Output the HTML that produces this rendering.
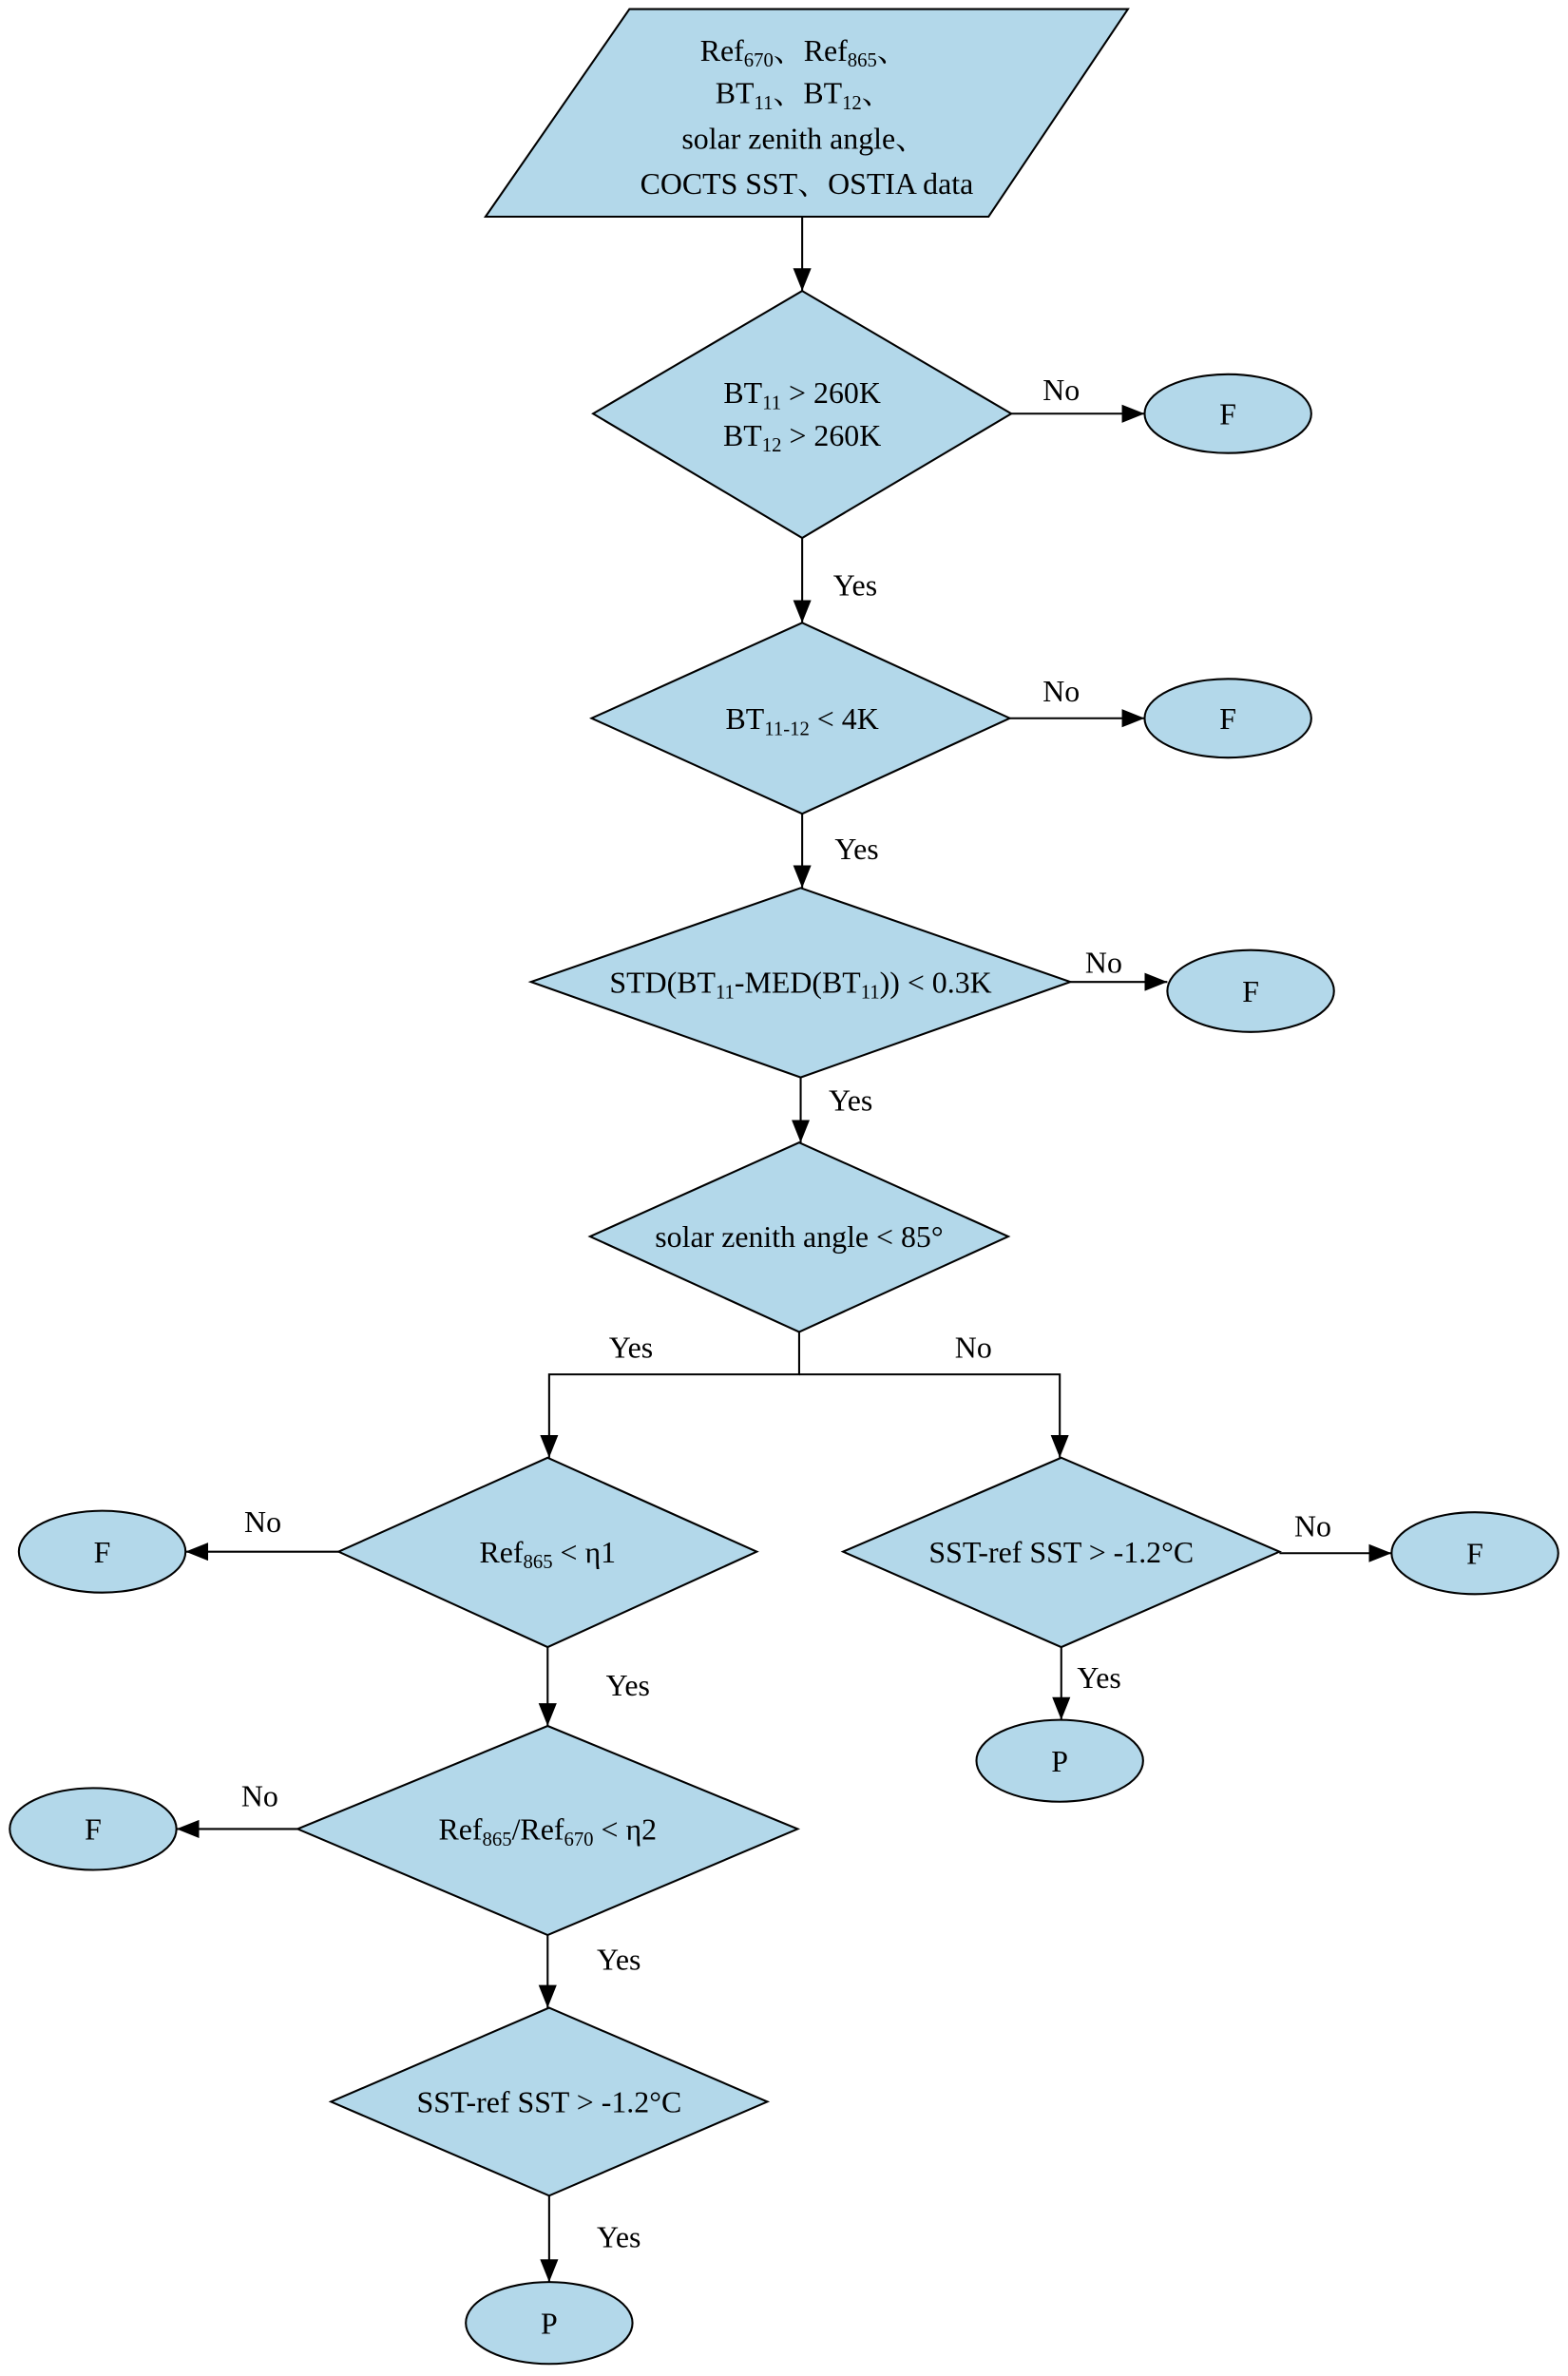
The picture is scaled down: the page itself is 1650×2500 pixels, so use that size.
<!DOCTYPE html>
<html><head><meta charset="utf-8"><style>
html,body{margin:0;padding:0;background:#fff;}
svg{display:block;}
text{font-family:"Liberation Serif","Noto Serif CJK SC",serif;font-size:20px;fill:#000;}
.s{font-size:13px;}
</style></head><body>
<svg width="1650" height="2500" viewBox="0 0 1034 1568" xmlns="http://www.w3.org/2000/svg">
<defs>
<marker id="a" markerUnits="userSpaceOnUse" markerWidth="16" markerHeight="12" refX="15" refY="6" orient="auto">
<path d="M0,0 L15,6 L0,12 Z" fill="#000"/>
</marker>
</defs>
<g fill="#b3d8ea" stroke="#000" stroke-width="1.3">
<polygon points="415,6 744,6 652,143 320,143"/>
<polygon points="529,192 667,273 529,355 391,273"/>
<polygon points="529,411 666,474 529,537 390,474"/>
<polygon points="528,586 706,648 528,711 350,648"/>
<polygon points="527,754 665,816 527,879 389,816"/>
<polygon points="361,962 499,1024 361,1087 223,1024"/>
<polygon points="700,962 844,1024 700,1087 556,1024"/>
<polygon points="361,1139 526,1207 361,1277 196,1207"/>
<polygon points="362,1325 506,1387 362,1449 218,1387"/>
<ellipse cx="810" cy="273" rx="55" ry="26"/>
<ellipse cx="810" cy="474" rx="55" ry="26"/>
<ellipse cx="825" cy="654" rx="55" ry="27"/>
<ellipse cx="67" cy="1024" rx="55" ry="27"/>
<ellipse cx="973" cy="1025" rx="55" ry="27"/>
<ellipse cx="699" cy="1162" rx="55" ry="27"/>
<ellipse cx="61" cy="1207" rx="55" ry="27"/>
<ellipse cx="362" cy="1533" rx="55" ry="27"/>
</g>
<g stroke="#000" stroke-width="1.3" fill="none" marker-end="url(#a)">
<line x1="529" y1="143" x2="529" y2="192"/>
<line x1="667" y1="273" x2="755" y2="273"/>
<line x1="529" y1="355" x2="529" y2="411"/>
<line x1="666" y1="474" x2="755" y2="474"/>
<line x1="529" y1="537" x2="529" y2="586"/>
<line x1="706" y1="648" x2="770" y2="648"/>
<line x1="528" y1="711" x2="528" y2="754"/>
<polyline points="527,879 527,907 362,907 362,962"/>
<polyline points="527,907 699,907 699,962"/>
<line x1="223" y1="1024" x2="122" y2="1024"/>
<line x1="844" y1="1025" x2="918" y2="1025"/>
<line x1="700" y1="1087" x2="700" y2="1135"/>
<line x1="361" y1="1087" x2="361" y2="1139"/>
<line x1="196" y1="1207" x2="116" y2="1207"/>
<line x1="361" y1="1277" x2="361" y2="1325"/>
<line x1="362" y1="1449" x2="362" y2="1506"/>
</g>
<g text-anchor="middle">
<text x="530" y="40">Ref<tspan class="s" dy="4">670</tspan><tspan dy="-4">、Ref</tspan><tspan class="s" dy="4">865</tspan><tspan dy="-4">、</tspan></text>
<text x="530" y="68">BT<tspan class="s" dy="4">11</tspan><tspan dy="-4">、BT</tspan><tspan class="s" dy="4">12</tspan><tspan dy="-4">、</tspan></text>
<text x="530" y="98">solar zenith angle、</text>
<text x="532" y="128">COCTS SST、OSTIA data</text>
<text x="529" y="266">BT<tspan class="s" dy="4">11</tspan><tspan dy="-4"> &gt; 260K</tspan></text>
<text x="529" y="294">BT<tspan class="s" dy="4">12</tspan><tspan dy="-4"> &gt; 260K</tspan></text>
<text x="529" y="481">BT<tspan class="s" dy="4">11-12</tspan><tspan dy="-4"> &lt; 4K</tspan></text>
<text x="528" y="655">STD(BT<tspan class="s" dy="4">11</tspan><tspan dy="-4">-MED(BT</tspan><tspan class="s" dy="4">11</tspan><tspan dy="-4">)) &lt; 0.3K</tspan></text>
<text x="527" y="823">solar zenith angle &lt; 85°</text>
<text x="361" y="1031">Ref<tspan class="s" dy="4">865</tspan><tspan dy="-4"> &lt; η1</tspan></text>
<text x="700" y="1031">SST-ref SST &gt; -1.2°C</text>
<text x="361" y="1214">Ref<tspan class="s" dy="4">865</tspan><tspan dy="-4">/Ref</tspan><tspan class="s" dy="4">670</tspan><tspan dy="-4"> &lt; η2</tspan></text>
<text x="362" y="1394">SST-ref SST &gt; -1.2°C</text>
<text x="810" y="280">F</text>
<text x="810" y="481">F</text>
<text x="825" y="661">F</text>
<text x="67" y="1031">F</text>
<text x="973" y="1032">F</text>
<text x="699" y="1169">P</text>
<text x="61" y="1214">F</text>
<text x="362" y="1540">P</text>
<text x="700" y="264">No</text>
<text x="700" y="463">No</text>
<text x="728" y="642">No</text>
<text x="173" y="1011">No</text>
<text x="866" y="1014">No</text>
<text x="171" y="1192">No</text>
<text x="564" y="393">Yes</text>
<text x="565" y="567">Yes</text>
<text x="561" y="733">Yes</text>
<text x="416" y="896">Yes</text>
<text x="642" y="896">No</text>
<text x="414" y="1119">Yes</text>
<text x="725" y="1114">Yes</text>
<text x="408" y="1300">Yes</text>
<text x="408" y="1483">Yes</text>
</g>
</svg>
</body></html>
